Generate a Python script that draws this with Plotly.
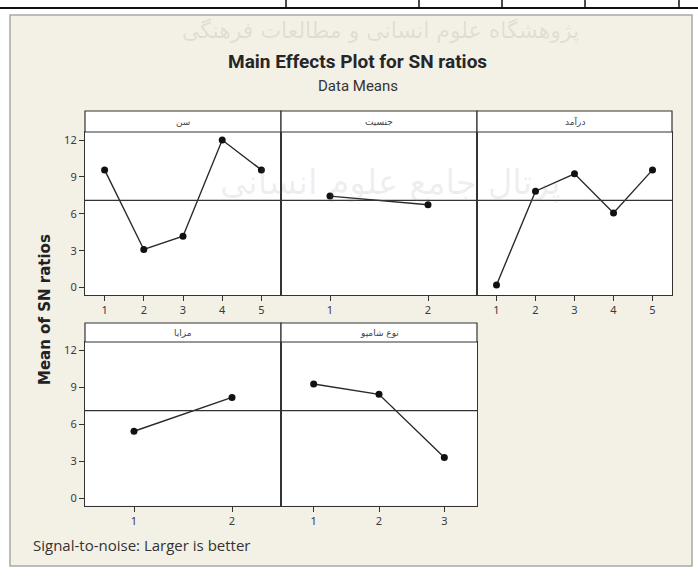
import plotly.graph_objects as go

W, H = 698, 576

# ---- data ----
panel_titles = ["سن", "جنسیت", "درآمد", "مزایا", "نوع شامپو"]
levels_age = [1, 2, 3, 4, 5]
sn_age = [9.57, 3.10, 4.18, 12.0, 9.57]
levels_gender = [1, 2]
sn_gender = [7.44, 6.74]
levels_income = [1, 2, 3, 4, 5]
sn_income = [0.22, 7.84, 9.25, 6.07, 9.57]
levels_benefits = [1, 2]
sn_benefits = [5.42, 8.16]
levels_shampoo = [1, 2, 3]
sn_shampoo = [9.25, 8.41, 3.29]
overall_mean = 7.09
y_ticks = [0, 3, 6, 9, 12]

def px(x):
    return x / W

def py(y):
    return 1 - y / H

# panel geometry in pixels
cols = [(85, 281), (281, 477), (477, 672)]
rows = [(111, 132, 295), (323, 342, 505.5)]
panels = [
    (cols[0], rows[0], levels_age, sn_age),
    (cols[1], rows[0], levels_gender, sn_gender),
    (cols[2], rows[0], levels_income, sn_income),
    (cols[0], rows[1], levels_benefits, sn_benefits),
    (cols[1], rows[1], levels_shampoo, sn_shampoo),
]

fig = go.Figure()
layout = dict(
    width=W, height=H,
    margin=dict(l=0, r=0, t=0, b=0),
    paper_bgcolor="white",
    plot_bgcolor="white",
    showlegend=False,
    shapes=[],
    annotations=[],
)

tick_font = dict(family="Noto Sans, Open Sans, sans-serif", size=11, color="#3a3a3a")
line_col = "#333333"

# frame + background
layout["shapes"].append(dict(type="rect", xref="paper", yref="paper",
                             x0=px(10), x1=px(692), y0=py(566), y1=py(15),
                             line=dict(color="#a8a8a8", width=1.5),
                             fillcolor="#F3F0E6", layer="below"))
# table remnant lines at top
layout["shapes"].append(dict(type="line", xref="paper", yref="paper",
                             x0=0, x1=1, y0=py(8), y1=py(8),
                             line=dict(color="#111", width=2)))
for vx in [286, 419, 502, 585, 679]:
    layout["shapes"].append(dict(type="line", xref="paper", yref="paper",
                                 x0=px(vx), x1=px(vx), y0=py(8), y1=1,
                                 line=dict(color="#111", width=1.5)))

for i, ((x0, x1), (st, pt, pb), lv, vals) in enumerate(panels):
    n = i + 1
    xa = "xaxis" if n == 1 else f"xaxis{n}"
    ya = "yaxis" if n == 1 else f"yaxis{n}"
    xr = "x" if n == 1 else f"x{n}"
    yr = "y" if n == 1 else f"y{n}"
    first_col = (x0 == cols[0][0])
    layout[xa] = dict(domain=[px(x0), px(x1)], anchor=yr,
                      range=[0.5, len(lv) + 0.5],
                      tickvals=lv, ticktext=[str(v) for v in lv],
                      ticks="outside", ticklen=5, tickcolor=line_col,
                      tickfont=tick_font,
                      showline=True, mirror=True, linecolor=line_col, linewidth=1.2,
                      showgrid=False, zeroline=False, fixedrange=True)
    layout[ya] = dict(domain=[py(pb), py(pt)], anchor=xr,
                      range=[-0.6, 12.65],
                      tickvals=y_ticks if first_col else [],
                      ticks="outside" if first_col else "",
                      ticklen=5, tickcolor=line_col,
                      showticklabels=first_col,
                      tickfont=tick_font,
                      showline=True, mirror=True, linecolor=line_col, linewidth=1.2,
                      showgrid=False, zeroline=False, fixedrange=True)
    # white panel background (over the cream frame)
    layout["shapes"].append(dict(type="rect", xref="paper", yref="paper",
                                 x0=px(x0), x1=px(x1), y0=py(pb), y1=py(pt),
                                 line=dict(width=0), fillcolor="white", layer="below"))
    # reference line (overall mean)
    layout["shapes"].append(dict(type="line", xref=f"{xr} domain", yref=yr,
                                 x0=0, x1=1, y0=overall_mean, y1=overall_mean,
                                 line=dict(color=line_col, width=1.2)))
    # strip
    layout["shapes"].append(dict(type="rect", xref="paper", yref="paper",
                                 x0=px(x0), x1=px(x1), y0=py(pt), y1=py(st),
                                 line=dict(color=line_col, width=1.2),
                                 fillcolor="white"))
    layout["annotations"].append(dict(xref="paper", yref="paper",
                                      x=px((x0 + x1) / 2), y=py((st + pt) / 2),
                                      text=panel_titles[i], showarrow=False,
                                      font=dict(family="DejaVu Sans", size=9, color="#444"),
                                      xanchor="center", yanchor="middle"))
    fig.add_trace(go.Scatter(x=lv, y=vals, xaxis=xr, yaxis=yr,
                             mode="lines+markers",
                             line=dict(color="#2a2a2a", width=1.4),
                             marker=dict(color="#111", size=7),
                             hoverinfo="skip"))

# watermark (faint)
layout["annotations"].append(dict(xref="paper", yref="paper", x=px(380), y=py(31),
                                  text="پژوهشگاه علوم انسانی و مطالعات فرهنگی",
                                  showarrow=False, yanchor="middle",
                                  font=dict(family="DejaVu Sans", size=22,
                                            color="rgba(120,120,120,0.16)")))
layout["annotations"].append(dict(xref="paper", yref="paper", x=px(390), y=py(160),
                                  text="پرتال جامع علوم انسانی",
                                  showarrow=False,
                                  font=dict(family="DejaVu Sans", size=34,
                                            color="rgba(120,120,120,0.12)")))

# titles
layout["annotations"].append(dict(xref="paper", yref="paper", x=px(357), y=py(62),
                                  text="<b>Main Effects Plot for SN ratios</b>",
                                  showarrow=False, xanchor="center", yanchor="middle",
                                  font=dict(family="Roboto, sans-serif", size=19, color="#262626")))
layout["annotations"].append(dict(xref="paper", yref="paper", x=px(358), y=py(86),
                                  text="Data Means",
                                  showarrow=False, xanchor="center", yanchor="middle",
                                  font=dict(family="Roboto, sans-serif", size=15, color="#333")))
layout["annotations"].append(dict(xref="paper", yref="paper", x=px(45), y=py(310),
                                  text="<b>Mean of SN ratios</b>", textangle=-90,
                                  showarrow=False, xanchor="center", yanchor="middle",
                                  font=dict(family="DejaVu Sans, sans-serif", size=15,
                                            color="#222")))
layout["annotations"].append(dict(xref="paper", yref="paper", x=px(31), y=py(545),
                                  text="Signal-to-noise: Larger is better",
                                  showarrow=False, xanchor="left", yanchor="middle",
                                  font=dict(family="Open Sans, sans-serif", size=15, color="#333")))

fig.update_layout(**layout)
fig.write_html("out.html", config={"displayModeBar": False},
               post_script="document.body.style.margin='0';document.body.style.overflow='hidden';")
